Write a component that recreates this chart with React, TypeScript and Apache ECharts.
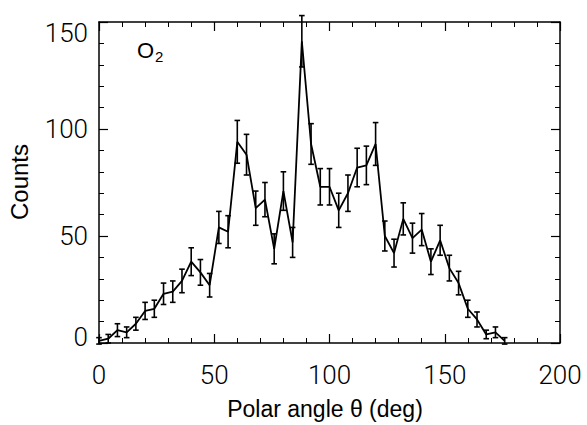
import React, { useEffect, useRef } from "react";
import * as echarts from "echarts";

const angles = [0, 4, 8, 12, 16, 20, 24, 28, 32, 36, 40, 44, 48, 52, 56, 60, 64, 68, 72, 76, 80, 84, 88, 92, 96, 100, 104, 108, 112, 116, 120, 124, 128, 132, 136, 140, 144, 148, 152, 156, 160, 164, 168, 172, 176];
const counts = [1, 2, 6, 5, 9, 15, 16, 23, 24, 29, 38, 33, 27, 54, 52, 94, 88, 63, 67, 44, 71, 47, 141, 93, 73, 73, 62, 70, 82, 83, 93, 50, 42, 58, 49, 53, 38, 48, 35, 28, 16, 11, 4, 5, 1];
const errors = [1.5, 2, 3, 2.5, 3, 4, 4, 5, 5, 5.5, 6.5, 6, 5.5, 7.5, 7.5, 10, 9.5, 8, 8, 7, 9, 7, 12, 9.5, 8.5, 8.5, 8, 8.5, 9, 9, 10, 7, 6.5, 7.5, 7, 7.5, 6, 7, 6, 5.5, 4, 3.5, 2, 2.5, 1.5];
const xTicks = { min: 0, max: 200, interval: 50 };
const yTicks = { min: 0, max: 150, interval: 50 };

const tickFont = "Roboto";
const labelFont = "Liberation Sans";

export default function App() {
  const ref = useRef<HTMLDivElement>(null);
  useEffect(() => {
    if (!ref.current) return;
    const chart = echarts.init(ref.current, undefined, { renderer: "svg" });
    const lineData = angles.map((a, i) => [a, counts[i]]);
    const errData = angles.map((a, i) => [a, counts[i] - errors[i], counts[i] + errors[i]]);
    const axisLine = { show: true, onZero: false, lineStyle: { color: "#000", width: 1.5 } };
    const common = {
      axisLine,
      axisTick: { show: true, inside: true, length: 9, lineStyle: { color: "#000", width: 1.2 } },
      minorTick: { show: true, splitNumber: 5, length: 5, lineStyle: { color: "#000", width: 1 } },
      splitLine: { show: false },
      minorSplitLine: { show: false },
    };
    const tickText = { fontSize: 26, fontFamily: tickFont, fontWeight: 300, color: "#000" };
    chart.setOption({
      animation: false,
      backgroundColor: "#fff",
      grid: { left: 99, right: 27, top: 22, bottom: 82, containLabel: false },
      xAxis: [
        {
          type: "value",
          position: "bottom",
          ...xTicks,
          ...common,
          axisLabel: { show: true, ...tickText, margin: 19 },
        },
        {
          type: "value",
          position: "top",
          ...xTicks,
          ...common,
          axisLabel: { show: false },
        },
      ],
      yAxis: [
        {
          type: "value",
          position: "left",
          ...yTicks,
          ...common,
          axisLabel: {
            show: true,
            ...tickText,
            margin: 11,
            formatter: (v: number) => (v === 150 ? "{t|150}" : v === 0 ? "{b|0}" : String(v)),
            rich: {
              t: { ...tickText, padding: [22, 0, 0, 0] },
              b: { ...tickText, padding: [0, 0, 12, 0] },
            },
          },
        },
        {
          type: "value",
          position: "right",
          ...yTicks,
          ...common,
          axisLabel: { show: false },
        },
      ],
      title: {
        text: "{o|O}{s|2}",
        left: 132,
        top: 32,
        textStyle: {
          fontWeight: "normal",
          rich: {
            o: { fontSize: 22, fontFamily: labelFont, fontWeight: "normal", color: "#000" },
            s: { fontSize: 15, fontFamily: labelFont, fontWeight: "normal", color: "#000", padding: [12, 0, 0, 1] },
          },
        },
      },
      graphic: [
        {
          type: "text",
          x: 325,
          y: 409,
          style: { text: "Polar angle θ (deg)", fontSize: 23, fontFamily: labelFont, fill: "#000", textAlign: "center", textVerticalAlign: "middle" },
        },
        {
          type: "text",
          x: 19.5,
          y: 182,
          rotation: Math.PI / 2,
          style: { text: "Counts", fontSize: 24, fontFamily: labelFont, fill: "#000", textAlign: "center", textVerticalAlign: "middle" },
        },
      ],
      series: [
        {
          type: "line",
          data: lineData,
          xAxisIndex: 0,
          yAxisIndex: 0,
          symbol: "none",
          lineStyle: { color: "#000", width: 1.8 },
          z: 3,
        },
        {
          type: "custom",
          xAxisIndex: 0,
          yAxisIndex: 0,
          data: errData,
          z: 4,
          renderItem: (params: any, api: any) => {
            const x = api.value(0);
            const lo = api.coord([x, api.value(1)]);
            const hi = api.coord([x, api.value(2)]);
            const w = 2.8;
            const style = { stroke: "#000", lineWidth: 1.6 };
            return {
              type: "group",
              children: [
                { type: "line", shape: { x1: lo[0], y1: lo[1], x2: hi[0], y2: hi[1] }, style },
                { type: "line", shape: { x1: lo[0] - w, y1: lo[1], x2: lo[0] + w, y2: lo[1] }, style },
                { type: "line", shape: { x1: hi[0] - w, y1: hi[1], x2: hi[0] + w, y2: hi[1] }, style },
              ],
            };
          },
        },
      ],
    });
    return () => chart.dispose();
  }, []);
  return <div ref={ref} style={{ position: "fixed", left: 0, top: 0, width: 587, height: 425 }} />;
}
